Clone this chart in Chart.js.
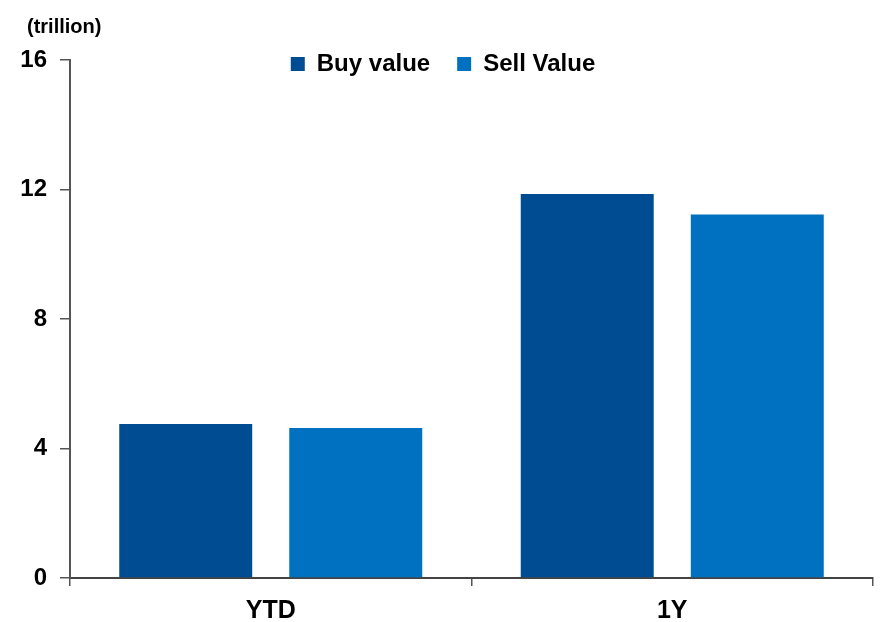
<!DOCTYPE html>
<html>
<head>
<meta charset="utf-8">
<script src="https://cdn.jsdelivr.net/npm/chart.js@4"></script>
<style>
  html, body { margin: 0; padding: 0; background: #ffffff; }
  canvas { display: block; }
</style>
</head>
<body>
<canvas id="c" width="882" height="622"></canvas>
<script>
const categories = ["YTD", "1Y"];
const buyValues = [4.76, 11.86];
const sellValues = [4.63, 11.23];
const seriesNames = ["Buy value", "Sell Value"];
const yTicks = [0, 4, 8, 12, 16];
const unitLabel = "(trillion)";

const FONT = "'Liberation Sans', Arial, Helvetica, sans-serif";

const unitPlugin = {
  id: 'unitLabel',
  afterLayout(chart) {
    // let the legend draw below its reserved box (it overlaps the plot top in the reference)
    const lg = chart.legend;
    if (lg) { lg.height += 40; lg.bottom += 40; }
  },
  afterDraw(chart) {
    const ctx = chart.ctx;
    ctx.save();
    ctx.font = "bold 20px " + FONT;
    ctx.fillStyle = "#000000";
    ctx.textAlign = "left";
    ctx.textBaseline = "middle";
    ctx.fillText(unitLabel, 27, 27);
    ctx.restore();
  }
};

new Chart(document.getElementById('c'), {
  type: 'bar',
  data: {
    labels: categories,
    datasets: [
      { label: seriesNames[0], data: buyValues, backgroundColor: '#004c93', borderWidth: 0,
        categoryPercentage: 0.847, barPercentage: 0.782 },
      { label: seriesNames[1], data: sellValues, backgroundColor: '#0070c0', borderWidth: 0,
        categoryPercentage: 0.847, barPercentage: 0.782 }
    ]
  },
  options: {
    responsive: false,
    animation: false,
    devicePixelRatio: 1,
    layout: { padding: { left: 13, right: 9, top: 25, bottom: 0 } },
    plugins: {
      title: { display: false },
      tooltip: { enabled: false },
      legend: {
        display: true,
        position: 'top',
        align: 'center',
        maxHeight: 35,
        labels: {
          boxWidth: 14,
          boxHeight: 14,
          padding: 27,
          color: '#000000',
          font: { family: FONT, size: 24, weight: 'bold' }
        }
      }
    },
    scales: {
      x: {
        z: 1,
        offset: true,
        grid: { display: true, drawOnChartArea: false, drawTicks: true, tickLength: 8, color: '#555555', lineWidth: 1.5 },
        border: { display: true, color: '#444444', width: 2 },
        ticks: { color: '#000000', padding: 10, font: { family: FONT, size: 25, weight: 'bold' } },
        afterFit(scale) { scale.height = 44; }
      },
      y: {
        min: 0,
        max: 16,
        afterBuildTicks(scale) { scale.ticks = yTicks.map(v => ({ value: v })); },
        grid: { display: true, drawOnChartArea: false, drawTicks: true, tickLength: 10, color: '#555555', lineWidth: 1.5 },
        border: { display: true, color: '#555555', width: 2 },
        ticks: { color: '#000000', padding: 13, font: { family: FONT, size: 24, weight: 'bold' } },
        afterFit(scale) { scale.width = 57; }
      }
    }
  },
  plugins: [unitPlugin]
});
</script>
</body>
</html>
